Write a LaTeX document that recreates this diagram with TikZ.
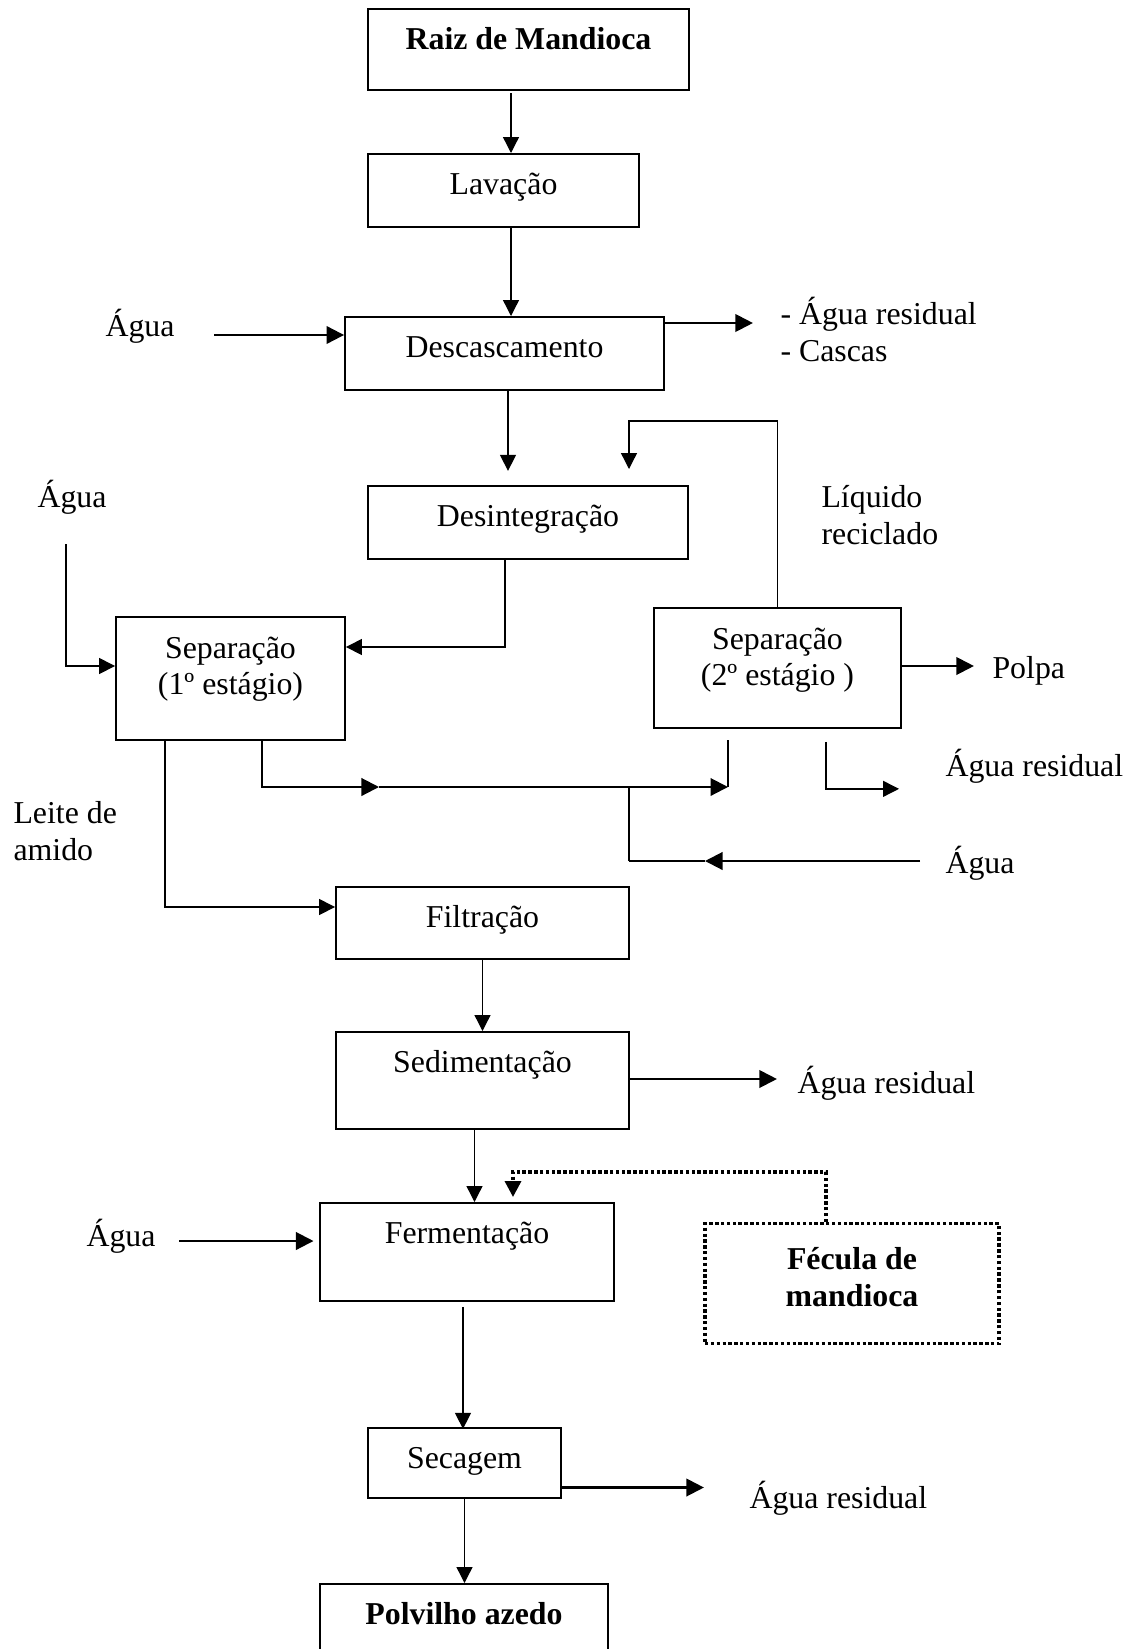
\documentclass[tikz,border=0pt]{standalone}
\usepackage{fontspec}
\setmainfont{Liberation Serif}
\usepackage{tikz}
\usetikzlibrary{arrows.meta,positioning,calc}

\newcommand\pxs{0.377pt}
\newcommand\flowfont{\fontsize{12}{13.9}\selectfont}
\tikzset{
  proc/.style n args={3}{draw, line width=0.7pt, inner sep=0pt, anchor=north, align=center,
    minimum width=#1*\pxs, text height=#3*\pxs, text depth=#2*\pxs-#3*\pxs},
  boldtxt/.style={font=\flowfont\bfseries},
  lbl/.style={anchor=base west, inner sep=0pt, align=left},
  flow/.style={line width=0.5pt, -{Triangle[length=6pt,width=6pt]}},
  flowb/.style={line width=0.8pt, -{Triangle[length=6.6pt,width=6.6pt]}},
  dotline/.style={line width=1.3pt, dash pattern=on 1.3pt off 0.9pt},
}

\begin{document}
\begin{tikzpicture}[x=\pxs, y=-\pxs, font=\flowfont]
    \useasboundingbox (0,0) rectangle (1133,1649);

    % process boxes
    \node[proc={321}{81}{41}, boldtxt] (raiz) at (528.5,8) {Raiz de Mandioca};
    \node[proc={271}{73}{41}] (lav) at (503.5,153) {Lavação};
    \node[proc={319}{73}{41}] (desc) at (504.5,316) {Descascamento};
    \node[proc={320}{73}{41}] (desint) at (528,485) {Desintegração};
    \node[proc={229}{123}{78}] (sep1) at (230.5,616) {Separação\\(1º estágio)};
    \node[proc={247}{120}{78}] (sep2) at (777.5,607) {Separação\\(2º estágio )};
    \node[proc={293}{72}{41}] (filt) at (482.5,886) {Filtração};
    \node[proc={293}{97}{41}] (sedim) at (482.5,1031) {Sedimentação};
    \node[proc={294}{98}{41}] (ferm) at (467,1202) {Fermentação};
    \node[proc={294}{120}{83}, boldtxt, dotline] (fecula) at (852,1222) {Fécula de\\mandioca};
    \node[proc={193}{70}{41}] (secagem) at (464.5,1427) {Secagem};
    \node[proc={288}{75}{41}, boldtxt] (polv) at (464,1583) {Polvilho azedo};

    % streams in and out
    \node[lbl] (aguaA) at (105,336) {Água};
    \node[lbl] (resA) at (780,361) {- Água residual\\- Cascas};
    \node[lbl] (aguaB) at (37,507) {Água};
    \node[lbl] (liq) at (821,544) {Líquido\\reciclado};
    \node[lbl] (polpa) at (992,678) {Polpa};
    \node[lbl] (resB) at (945,776) {Água residual};
    \node[lbl] (leite) at (13,860) {Leite de\\amido};
    \node[lbl] (aguaC) at (945,873) {Água};
    \node[lbl] (resC) at (797,1093) {Água residual};
    \node[lbl] (aguaD) at (86,1246) {Água};
    \node[lbl] (resD) at (749,1508) {Água residual};

    \coordinate (colA) at (511,93);
    \coordinate (inA) at (214,335);
    \coordinate (recyc) at (629,469);
    \coordinate (inB) at (66,544);
    \coordinate (midA) at (379,787);
    \coordinate (joinA) at (728,787);
    \coordinate (joinB) at (629,787);
    \coordinate (inC) at (920,861);
    \coordinate (midC) at (705,861);
    \coordinate (inD) at (179,1241);

    \draw[flow] (colA) -- (colA |- lav.north);
    \draw[flow] (colA |- lav.south) -- (colA |- desc.north);
    \draw[flowb] (inA) -- (inA -| desc.west);
    \draw[flowb] ([shift={(0,7)}]desc.north east) -- ++(88,0);
    \draw[flow] ([shift={(3.5,0)}]desc.south) -- ++(0,80);

    % recycle loop
    \draw[flow] (sep2.north) -- ++(0,-186) -| (recyc);
    \draw[flow] ([shift={(-23,0)}]desint.south) |- ([shift={(0,31)}]sep1.north east);
    \draw[flow] (inB) |- ([shift={(0,50)}]sep1.north west);

    % liquid to 2nd stage
    \draw[flowb] ([shift={(31.5,0)}]sep1.south) |- (midA);
    \draw[flowb] (midA) -- (joinA);
    \draw[line width=0.5pt] (joinA) -- ++(0,-47);
    \draw[flowb] (inC) -- (midC);
    \draw[line width=0.8pt] (midC) -- (joinB |- inC);
    \draw[line width=0.5pt] (joinB |- inC) -- (joinB);
    \draw[flow] ([shift={(48.5,13)}]sep2.south) |- ++(73,47);
    \draw[flowb] ([shift={(0,59)}]sep2.north east) -- ++(72,0);

    % starch milk
    \draw[flow] ([shift={(-65.5,0)}]sep1.south) |- ([shift={(0,21)}]filt.north west);
    \draw[flow] (filt.south) -- (sedim.north);
    \draw[flowb] ([shift={(0,48)}]sedim.north east) -- ++(147,0);
    \draw[flow] ([shift={(-8,0)}]sedim.south) -- ([shift={(7.5,0)}]ferm.north);
    \draw[dotline, -{Triangle[length=6pt,width=6pt]}] ([shift={(-26,0)}]fecula.north) -- ++(0,-50) -| ([shift={(46,-5)}]ferm.north);
    \draw[flowb] (inD) -- ++(134.5,0);
    \draw[flow] ([shift={(-4,5)}]ferm.south) -- ++(0,122);
    \draw[flowb] ([shift={(0,60.5)}]secagem.north east) -- ++(142,0);
    \draw[flow] (secagem.south) -- (secagem.south |- polv.north);

\end{tikzpicture}
\end{document}
